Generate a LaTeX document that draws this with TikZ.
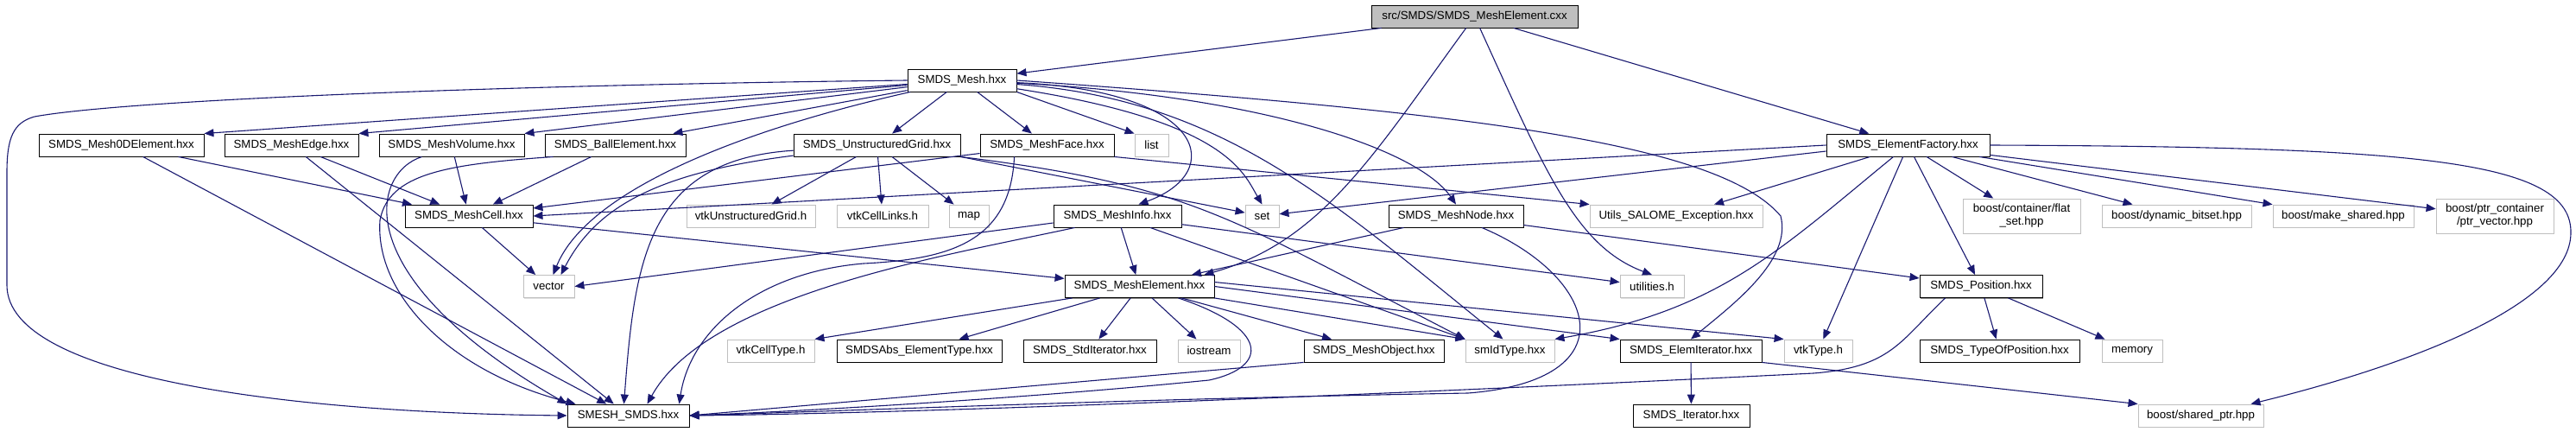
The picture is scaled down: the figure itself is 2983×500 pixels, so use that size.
\documentclass[tikz,border=0pt]{standalone}
\usepackage{fontspec}
\setmainfont{Liberation Sans}
\usetikzlibrary{arrows.meta,shadows}
\definecolor{edgeblue}{HTML}{191970}
\definecolor{boxgray}{HTML}{BFBFBF}
\tikzstyle{hdr-box} = [draw=black, fill=white, line width=0.9pt, rectangle,
    minimum height=26, inner sep=0pt, font=\fontsize{13.3}{15}\selectfont,
    drop shadow={shadow xshift=1.2pt, shadow yshift=-1.2pt, fill=black!45, opacity=1}]
\tikzstyle{ext-box} = [draw=boxgray, fill=white, line width=0.9pt, rectangle,
    minimum height=26, inner sep=0pt, align=center, font=\fontsize{13.3}{15}\selectfont,
    drop shadow={shadow xshift=1.2pt, shadow yshift=-1.2pt, fill=black!12, opacity=1}]
\tikzstyle{root-box} = [hdr-box, fill=boxgray]
\tikzstyle{inc-edge} = [draw=edgeblue, line width=1.1pt, -{Triangle[length=11pt,width=9pt]}]

\begin{document}
\begin{tikzpicture}[x=1pt,y=-1pt]
\useasboundingbox (0,0) rectangle (2983,500);
\node[root-box, minimum width=239] (root) at (1707.5,19) {src/SMDS/SMDS\_MeshElement.cxx};
\node[hdr-box, minimum width=126] (mesh) at (1114,93) {SMDS\_Mesh.hxx};
\node[hdr-box, minimum width=191] (m0d) at (140.5,168) {SMDS\_Mesh0DElement.hxx};
\node[hdr-box, minimum width=155] (medge) at (337.5,168) {SMDS\_MeshEdge.hxx};
\node[hdr-box, minimum width=168] (mvol) at (523,168) {SMDS\_MeshVolume.hxx};
\node[hdr-box, minimum width=163] (ball) at (712.5,168) {SMDS\_BallElement.hxx};
\node[hdr-box, minimum width=193] (ugrid) at (1015.5,168) {SMDS\_UnstructuredGrid.hxx};
\node[hdr-box, minimum width=155] (mface) at (1212.5,168) {SMDS\_MeshFace.hxx};
\node[ext-box, minimum width=39] (stdlist) at (1333.5,168) {list};
\node[hdr-box, minimum width=189] (factory) at (2209.5,168) {SMDS\_ElementFactory.hxx};
\node[hdr-box, minimum width=148] (mcell) at (543,250) {SMDS\_MeshCell.hxx};
\node[ext-box, minimum width=149] (vtkug) at (869.5,250) {vtkUnstructuredGrid.h};
\node[ext-box, minimum width=106] (vtkcl) at (1022,250) {vtkCellLinks.h};
\node[ext-box, minimum width=46] (stdmap) at (1122,250) {map};
\node[hdr-box, minimum width=148] (meshinfo) at (1294,250) {SMDS\_MeshInfo.hxx};
\node[ext-box, minimum width=39] (stdset) at (1461.5,250) {set};
\node[hdr-box, minimum width=156] (meshnode) at (1686,250) {SMDS\_MeshNode.hxx};
\node[ext-box, minimum width=200] (utilsexc) at (1941,250) {Utils\_SALOME\_Exception.hxx};
\node[ext-box, minimum width=136, minimum height=40] (flatset) at (2341,250) {boost/container/flat\\\_set.hpp};
\node[ext-box, minimum width=173] (dynbitset) at (2520.5,250) {boost/dynamic\_bitset.hpp};
\node[ext-box, minimum width=163] (makeshared) at (2713.5,250) {boost/make\_shared.hpp};
\node[ext-box, minimum width=136, minimum height=40] (ptrvec) at (2889,250) {boost/ptr\_container\\/ptr\_vector.hpp};
\node[ext-box, minimum width=59] (stdvector) at (635.5,331.5) {vector};
\node[hdr-box, minimum width=173] (meshelem) at (1319.5,331.5) {SMDS\_MeshElement.hxx};
\node[ext-box, minimum width=74] (utilities) at (1913,331.5) {utilities.h};
\node[hdr-box, minimum width=142] (position) at (2294,331.5) {SMDS\_Position.hxx};
\node[ext-box, minimum width=101] (vtkcelltype) at (892.5,406) {vtkCellType.h};
\node[hdr-box, minimum width=191] (absetype) at (1064.5,406) {SMDSAbs\_ElementType.hxx};
\node[hdr-box, minimum width=154] (stditer) at (1262,406) {SMDS\_StdIterator.hxx};
\node[ext-box, minimum width=72] (stdiostream) at (1400,406) {iostream};
\node[hdr-box, minimum width=162] (meshobj) at (1591,406) {SMDS\_MeshObject.hxx};
\node[ext-box, minimum width=103] (smid) at (1748.5,406) {smIdType.hxx};
\node[hdr-box, minimum width=164] (elemit) at (1958,406) {SMDS\_ElemIterator.hxx};
\node[ext-box, minimum width=79] (vtktype) at (2105.5,406) {vtkType.h};
\node[hdr-box, minimum width=185] (typeofpos) at (2315.5,406) {SMDS\_TypeOfPosition.hxx};
\node[ext-box, minimum width=70] (stdmemory) at (2469,406) {memory};
\node[hdr-box, minimum width=141] (smesh) at (727.5,481) {SMESH\_SMDS.hxx};
\node[hdr-box, minimum width=135] (iterator) at (1958.5,481) {SMDS\_Iterator.hxx};
\node[ext-box, minimum width=145] (sharedptr) at (2548.5,481) {boost/shared\_ptr.hpp};

% source file
\draw[inc-edge] (root) -- (mesh);
\draw[inc-edge] (root) -- (factory);
\draw[inc-edge] (root) .. controls (1590,180) and (1530,280) .. ([xshift=-12pt]meshelem.north east);
\draw[inc-edge] (root) .. controls (1790,200) and (1825,285) .. (utilities.north);
% SMDS_Mesh.hxx
\draw[inc-edge] (mesh) -- (m0d.north east);
\draw[inc-edge] (mesh) -- (medge.north east);
\draw[inc-edge] (mesh) -- (mvol.north east);
\draw[inc-edge] (mesh) -- ([xshift=-15pt]ball.north east);
\draw[inc-edge] (mesh) -- (ugrid);
\draw[inc-edge] (mesh) -- (mface);
\draw[inc-edge] (mesh.south east) -- (stdlist.north west);
\draw[inc-edge] (mesh) .. controls (1400,105) and (1420,200) .. ([xshift=-50pt]meshinfo.north east);
\draw[inc-edge] (mesh) .. controls (1420,140) and (1440,200) .. (stdset.north);
\draw[inc-edge] (mesh) .. controls (1450,110) and (1640,170) .. (meshnode.north);
\draw[inc-edge] (mesh) .. controls (1420,115) and (1550,240) .. ([xshift=-8pt]smid.north);
\draw[inc-edge] (mesh.east) .. controls (1700,130) and (1990,165) .. (2062,250)
    .. controls (2075,300) and (2010,350) .. (elemit.north);
\draw[inc-edge] (mesh) .. controls (860,150) and (680,220) .. ([xshift=5pt]stdvector.north);
\draw[inc-edge] (mesh.west) .. controls (600,98) and (150,115) .. (40,135)
    .. controls (15,142) and (8,160) .. (8,200) -- (8,330)
    .. controls (8,440) and (350,478) .. (smesh.west);
% row of cell headers
\draw[inc-edge] (m0d) -- (mcell);
\draw[inc-edge] (m0d) -- (smesh);
\draw[inc-edge] (medge) -- (mcell);
\draw[inc-edge] (medge) -- (smesh);
\draw[inc-edge] (mvol) -- (mcell);
\draw[inc-edge] ([xshift=50pt]mvol.south west) .. controls (430,200) and (400,320) .. (smesh.north west);
\draw[inc-edge] (ball) -- (mcell);
\draw[inc-edge] ([xshift=10pt]ball.south west) .. controls (520,190) and (450,200) .. (440,255)
    .. controls (434,340) and (520,430) .. ([xshift=10pt]smesh.north west);
\draw[inc-edge] (ugrid) -- (vtkug);
\draw[inc-edge] (ugrid) -- (vtkcl);
\draw[inc-edge] (ugrid) -- (stdmap);
\draw[inc-edge] (ugrid.south east) -- (stdset);
\draw[inc-edge] (ugrid.south east) .. controls (1380,215) and (1420,250) .. (smid.north west);
\draw[inc-edge] (ugrid) .. controls (760,200) and (690,240) .. ([xshift=14pt]stdvector.north);
\draw[inc-edge] (ugrid) .. controls (750,185) and (735,300) .. ([xshift=-5pt]smesh.north);
\draw[inc-edge] (mface) -- (mcell);
\draw[inc-edge] (mface.south east) -- (utilsexc.north west);
\draw[inc-edge] ([xshift=40pt]mface.south west) .. controls (1170,280) and (1100,300) .. (1000,305)
    .. controls (880,315) and (800,380) .. ([xshift=-12pt]smesh.north east);
\draw[inc-edge] (mcell) -- (stdvector);
\draw[inc-edge] (mcell) -- (meshelem);
% SMDS_ElementFactory.hxx
\draw[inc-edge] (factory.west) -- (mcell.east);
\draw[inc-edge] ([yshift=-7pt]factory.west) -- (stdset);
\draw[inc-edge] (factory) -- (utilsexc);
\draw[inc-edge] ([xshift=-17pt]factory.south) .. controls (2060,290) and (1990,360) .. (smid.north east);
\draw[inc-edge] (factory) -- (vtktype);
\draw[inc-edge] (factory) -- (position);
\draw[inc-edge] (factory) -- (flatset);
\draw[inc-edge] (factory) -- (dynbitset);
\draw[inc-edge] (factory) -- (makeshared);
\draw[inc-edge] (factory) -- (ptrvec);
\draw[inc-edge] (factory.east) .. controls (2800,170) and (2979,185) .. (2977,270)
    .. controls (2976,350) and (2800,420) .. ([xshift=-15pt]sharedptr.north east);
% SMDS_MeshInfo.hxx, SMDS_MeshNode.hxx
\draw[inc-edge] ([yshift=-8pt]meshinfo.west) -- (stdvector.east);
\draw[inc-edge] (meshinfo) -- (meshelem);
\draw[inc-edge] (meshinfo) -- (smid.north west);
\draw[inc-edge] (meshinfo) -- (utilities);
\draw[inc-edge] ([xshift=25pt]meshinfo.south west) .. controls (1100,295) and (820,340) .. ([xshift=22pt]smesh.north);
\draw[inc-edge] (meshnode) -- (meshelem);
\draw[inc-edge] (meshnode) -- (position);
\draw[inc-edge] ([xshift=30pt]meshnode.south) .. controls (1850,320) and (1890,440) .. (1700,455)
    .. controls (1300,462) and (1000,475) .. (smesh.east);
% SMDS_MeshElement.hxx
\draw[inc-edge] ([xshift=9pt]meshelem.south west) -- (vtkcelltype.north east);
\draw[inc-edge] (meshelem) -- (absetype);
\draw[inc-edge] (meshelem) -- (stditer);
\draw[inc-edge] (meshelem) -- (stdiostream);
\draw[inc-edge] (meshelem) -- (meshobj);
\draw[inc-edge] (meshelem.south east) -- (smid.north west);
\draw[inc-edge] (meshelem.east) -- (elemit.north west);
\draw[inc-edge] ([yshift=5pt]meshelem.east) -- (vtktype.north west);
\draw[inc-edge] ([xshift=45pt]meshelem.south) .. controls (1470,380) and (1470,425) .. (1400,440)
    .. controls (1200,460) and (950,475) .. (smesh.east);
% lower rows
\draw[inc-edge] (meshobj.south west) -- (smesh.east);
\draw[inc-edge] (position) -- (typeofpos);
\draw[inc-edge] (position) -- (stdmemory);
\draw[inc-edge] ([xshift=30pt]position.south west) .. controls (2200,395) and (2190,425) .. (2100,432)
    .. controls (1700,452) and (1100,478) .. (smesh.east);
\draw[inc-edge] (elemit) -- (iterator);
\draw[inc-edge] (elemit.south east) -- (sharedptr.north west);
\end{tikzpicture}
\end{document}
